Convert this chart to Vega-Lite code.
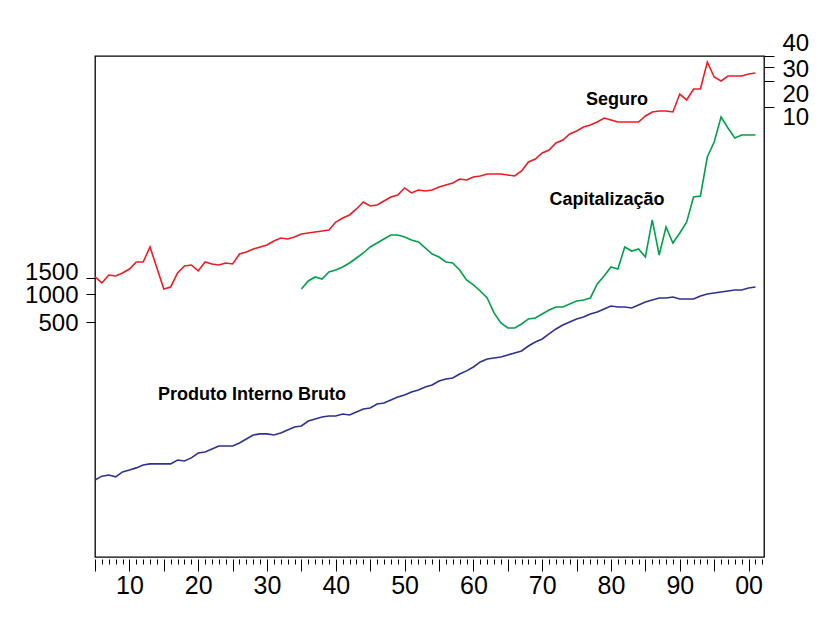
{
  "$schema": "https://vega.github.io/schema/vega-lite/v6.json",
  "width": 669,
  "height": 501,
  "autosize": {"type": "none"},
  "padding": {"left": 95, "top": 56, "right": 59, "bottom": 71},
  "background": "white",
  "config": {
    "font": "Liberation Sans",
    "view": {"stroke": "black", "strokeWidth": 1.3},
    "axis": {"labelFont": "Liberation Sans", "labelFontSize": 25, "labelColor": "black", "tickColor": "black", "tickWidth": 1, "domain": false, "grid": false, "title": null, "labelOverlap": false, "labelFlush": false, "labelBound": false}
  },
  "datasets": {
    "pib": [
      {"ano":1905,"valor":10.0},{"ano":1906,"valor":11.0},{"ano":1907,"valor":11.3},{"ano":1908,"valor":10.8},{"ano":1909,"valor":12.2},
      {"ano":1910,"valor":12.8},{"ano":1911,"valor":13.5},{"ano":1912,"valor":14.5},{"ano":1913,"valor":14.9},{"ano":1914,"valor":14.9},
      {"ano":1915,"valor":14.9},{"ano":1916,"valor":14.9},{"ano":1917,"valor":16.4},{"ano":1918,"valor":16.0},{"ano":1919,"valor":17.3},
      {"ano":1920,"valor":19.5},{"ano":1921,"valor":20.0},{"ano":1922,"valor":21.5},{"ano":1923,"valor":23.2},{"ano":1924,"valor":23.2},
      {"ano":1925,"valor":23.2},{"ano":1926,"valor":25.0},{"ano":1927,"valor":27.6},{"ano":1928,"valor":30.5},{"ano":1929,"valor":31.3},
      {"ano":1930,"valor":31.3},{"ano":1931,"valor":30.5},{"ano":1932,"valor":32.0},{"ano":1933,"valor":34.5},{"ano":1934,"valor":37.2},
      {"ano":1935,"valor":38.1},{"ano":1936,"valor":43.1},{"ano":1937,"valor":45.3},{"ano":1938,"valor":47.5},{"ano":1939,"valor":48.8},
      {"ano":1940,"valor":48.8},{"ano":1941,"valor":51.3},{"ano":1942,"valor":50.0},{"ano":1943,"valor":53.8},{"ano":1944,"valor":58.0},
      {"ano":1945,"valor":59.4},{"ano":1946,"valor":65.6},{"ano":1947,"valor":67.2},{"ano":1948,"valor":72.4},{"ano":1949,"valor":78.0},
      {"ano":1950,"valor":82.0},{"ano":1951,"valor":88.3},{"ano":1952,"valor":92.9},{"ano":1953,"valor":100},{"ano":1954,"valor":105},
      {"ano":1955,"valor":116},{"ano":1956,"valor":122},{"ano":1957,"valor":125},{"ano":1958,"valor":138},{"ano":1959,"valor":149},
      {"ano":1960,"valor":164},{"ano":1961,"valor":186},{"ano":1962,"valor":200},{"ano":1963,"valor":205},{"ano":1964,"valor":210},
      {"ano":1965,"valor":221},{"ano":1966,"valor":232},{"ano":1967,"valor":244},{"ano":1968,"valor":276},{"ano":1969,"valor":305},
      {"ano":1970,"valor":328},{"ano":1971,"valor":372},{"ano":1972,"valor":421},{"ano":1973,"valor":464},{"ano":1974,"valor":500},
      {"ano":1975,"valor":539},{"ano":1976,"valor":566},{"ano":1977,"valor":610},{"ano":1978,"valor":640},{"ano":1979,"valor":690},
      {"ano":1980,"valor":743},{"ano":1981,"valor":725},{"ano":1982,"valor":725},{"ano":1983,"valor":707},{"ano":1984,"valor":762},
      {"ano":1985,"valor":820},{"ano":1986,"valor":862},{"ano":1987,"valor":906},{"ano":1988,"valor":906},{"ano":1989,"valor":929},
      {"ano":1990,"valor":884},{"ano":1991,"valor":884},{"ano":1992,"valor":884},{"ano":1993,"valor":952},{"ano":1994,"valor":1000},
      {"ano":1995,"valor":1025},{"ano":1996,"valor":1051},{"ano":1997,"valor":1077},{"ano":1998,"valor":1104},{"ano":1999,"valor":1104},
      {"ano":2000,"valor":1160},{"ano":2001,"valor":1190}
    ],
    "capitalizacao": [
      {"ano":1935,"valor":1132},{"ano":1936,"valor":1380},{"ano":1937,"valor":1524},{"ano":1938,"valor":1449},{"ano":1939,"valor":1725},
      {"ano":1940,"valor":1812},{"ano":1941,"valor":1951},{"ano":1942,"valor":2153},{"ano":1943,"valor":2438},{"ano":1944,"valor":2760},
      {"ano":1945,"valor":3200},{"ano":1946,"valor":3533},{"ano":1947,"valor":3900},{"ano":1948,"valor":4306},{"ano":1949,"valor":4306},
      {"ano":1950,"valor":4100},{"ano":1951,"valor":3808},{"ano":1952,"valor":3626},{"ano":1953,"valor":3126},{"ano":1954,"valor":2692},
      {"ano":1955,"valor":2500},{"ano":1956,"valor":2209},{"ano":1957,"valor":2153},{"ano":1958,"valor":1812},{"ano":1959,"valor":1416},
      {"ano":1960,"valor":1250},{"ano":1961,"valor":1077},{"ano":1962,"valor":906},{"ano":1963,"valor":626},{"ano":1964,"valor":488},
      {"ano":1965,"valor":431},{"ano":1966,"valor":431},{"ano":1967,"valor":476},{"ano":1968,"valor":539},{"ano":1969,"valor":552},
      {"ano":1970,"valor":610},{"ano":1971,"valor":673},{"ano":1972,"valor":725},{"ano":1973,"valor":725},{"ano":1974,"valor":780},
      {"ano":1975,"valor":841},{"ano":1976,"valor":862},{"ano":1977,"valor":906},{"ano":1978,"valor":1281},{"ano":1979,"valor":1563},
      {"ano":1980,"valor":1951},{"ano":1981,"valor":1857},{"ano":1982,"valor":3200},{"ano":1983,"valor":2898},{"ano":1984,"valor":3046},
      {"ano":1985,"valor":2500},{"ano":1986,"valor":6250},{"ano":1987,"valor":2625},{"ano":1988,"valor":5250},{"ano":1989,"valor":3533},
      {"ano":1990,"valor":4529},{"ano":1991,"valor":5943},{"ano":1992,"valor":11040},{"ano":1993,"valor":11320},{"ano":1994,"valor":29700},
      {"ano":1995,"valor":43000},{"ano":1996,"valor":80000},{"ano":1997,"valor":61000},{"ano":1998,"valor":47600},{"ano":1999,"valor":51300},
      {"ano":2000,"valor":51300},{"ano":2001,"valor":51300}
    ],
    "seguro": [
      {"ano":1905,"valor":0.0984},{"ano":1906,"valor":0.0836},{"ano":1907,"valor":0.1038},{"ano":1908,"valor":0.1012},{"ano":1909,"valor":0.1096},
      {"ano":1910,"valor":0.1222},{"ano":1911,"valor":0.1479},{"ano":1912,"valor":0.1479},{"ano":1913,"valor":0.2223},{"ano":1914,"valor":0.1256},
      {"ano":1915,"valor":0.0710},{"ano":1916,"valor":0.0750},{"ano":1917,"valor":0.1096},{"ano":1918,"valor":0.1327},{"ano":1919,"valor":0.1362},
      {"ano":1920,"valor":0.1159},{"ano":1921,"valor":0.1479},{"ano":1922,"valor":0.1400},{"ano":1923,"valor":0.1362},{"ano":1924,"valor":0.1439},
      {"ano":1925,"valor":0.1400},{"ano":1926,"valor":0.1837},{"ano":1927,"valor":0.1941},{"ano":1928,"valor":0.2104},{"ano":1929,"valor":0.2223},
      {"ano":1930,"valor":0.2350},{"ano":1931,"valor":0.2618},{"ano":1932,"valor":0.2838},{"ano":1933,"valor":0.2761},{"ano":1934,"valor":0.2917},
      {"ano":1935,"valor":0.3162},{"ano":1936,"valor":0.3251},{"ano":1937,"valor":0.3342},{"ano":1938,"valor":0.3436},{"ano":1939,"valor":0.3532},
      {"ano":1940,"valor":0.4385},{"ano":1941,"valor":0.4887},{"ano":1942,"valor":0.5310},{"ano":1943,"valor":0.6252},{"ano":1944,"valor":0.7551},
      {"ano":1945,"valor":0.6776},{"ano":1946,"valor":0.6966},{"ano":1947,"valor":0.7762},{"ano":1948,"valor":0.8650},{"ano":1949,"valor":0.9142},
      {"ano":1950,"valor":1.107},{"ano":1951,"valor":0.9661},{"ano":1952,"valor":1.047},{"ano":1953,"valor":1.019},{"ano":1954,"valor":1.047},
      {"ano":1955,"valor":1.135},{"ano":1956,"valor":1.199},{"ano":1957,"valor":1.267},{"ano":1958,"valor":1.413},{"ano":1959,"valor":1.374},
      {"ano":1960,"valor":1.489},{"ano":1961,"valor":1.531},{"ano":1962,"valor":1.618},{"ano":1963,"valor":1.618},{"ano":1964,"valor":1.618},
      {"ano":1965,"valor":1.574},{"ano":1966,"valor":1.531},{"ano":1967,"valor":1.754},{"ano":1968,"valor":2.244},{"ano":1969,"valor":2.432},
      {"ano":1970,"valor":2.864},{"ano":1971,"valor":3.105},{"ano":1972,"valor":3.758},{"ano":1973,"valor":4.074},{"ano":1974,"valor":4.797},
      {"ano":1975,"valor":5.212},{"ano":1976,"valor":5.808},{"ano":1977,"valor":6.124},{"ano":1978,"valor":6.653},{"ano":1979,"valor":7.413},
      {"ano":1980,"valor":7.015},{"ano":1981,"valor":6.653},{"ano":1982,"valor":6.653},{"ano":1983,"valor":6.653},{"ano":1984,"valor":6.653},
      {"ano":1985,"valor":7.834},{"ano":1986,"valor":8.730},{"ano":1987,"valor":8.974},{"ano":1988,"valor":8.974},{"ano":1989,"valor":8.730},
      {"ano":1990,"valor":14.22},{"ano":1991,"valor":12.10},{"ano":1992,"valor":16.29},{"ano":1993,"valor":16.29},{"ano":1994,"valor":33.96},
      {"ano":1995,"valor":22.59},{"ano":1996,"valor":20.28},{"ano":1997,"valor":23.23},{"ano":1998,"valor":23.23},{"ano":1999,"valor":23.23},
      {"ano":2000,"valor":24.49},{"ano":2001,"valor":25.18}
    ],
    "rotulos": [
      {"ano":1980.87,"valor":121900,"rotulo":"Seguro"},
      {"ano":1979.42,"valor":10250,"rotulo":"Capitalização"},
      {"ano":1927.82,"valor":82,"rotulo":"Produto Interno Bruto"}
    ]
  },
  "layer": [
    {
      "encoding": {
        "x": {"field": "ano", "type": "quantitative",
              "scale": {"domain": [1905, 2002.24], "nice": false, "zero": false},
              "axis": {"values": [1905,1906,1907,1908,1909,1910,1911,1912,1913,1914,1915,1916,1917,1918,1919,1920,1921,1922,1923,1924,1925,1926,1927,1928,1929,1930,1931,1932,1933,1934,1935,1936,1937,1938,1939,1940,1941,1942,1943,1944,1945,1946,1947,1948,1949,1950,1951,1952,1953,1954,1955,1956,1957,1958,1959,1960,1961,1962,1963,1964,1965,1966,1967,1968,1969,1970,1971,1972,1973,1974,1975,1976,1977,1978,1979,1980,1981,1982,1983,1984,1985,1986,1987,1988,1989,1990,1991,1992,1993,1994,1995,1996,1997,1998,1999,2000,2001,2002],
                       "tickSize": {"condition": {"test": "datum.value % 5 === 0", "value": 12}, "value": 5},
                       "labelExpr": "datum.value % 10 === 0 ? substring(toString(datum.value), 2) : ''",
                       "labelBaseline": "top", "labelPadding": 2, "offset": 2}},
        "y": {"field": "valor", "type": "quantitative",
              "scale": {"type": "log", "domain": [1.486, 362200], "nice": false},
              "axis": {"orient": "left", "values": [500, 1000, 1500], "format": "d", "tickSize": 9, "labelPadding": 8, "labelFontSize": 24,
                       "labelOffset": {"condition": {"test": "datum.value === 1500", "value": -5}, "value": 2}}}
      },
      "layer": [
        {
          "data": {"name": "pib"},
          "mark": {"type": "line", "color": "#2E3192", "strokeWidth": 1.6}
        },
        {
          "data": {"name": "capitalizacao"},
          "mark": {"type": "line", "color": "#00A04B", "strokeWidth": 1.6}
        },
        {
          "data": {"name": "rotulos"},
          "mark": {"type": "text", "font": "Liberation Sans", "fontWeight": "bold", "fontSize": 18, "align": "center", "baseline": "middle", "color": "black"},
          "encoding": {
            "text": {"field": "rotulo", "type": "nominal"}
          }
        }
      ]
    },
    {
      "data": {"name": "seguro"},
      "mark": {"type": "line", "color": "#ED1C24", "strokeWidth": 1.6},
      "encoding": {
        "x": {"field": "ano", "type": "quantitative", "scale": {"domain": [1905, 2002.24], "nice": false, "zero": false},
              "axis": {"values": [1905,1906,1907,1908,1909,1910,1911,1912,1913,1914,1915,1916,1917,1918,1919,1920,1921,1922,1923,1924,1925,1926,1927,1928,1929,1930,1931,1932,1933,1934,1935,1936,1937,1938,1939,1940,1941,1942,1943,1944,1945,1946,1947,1948,1949,1950,1951,1952,1953,1954,1955,1956,1957,1958,1959,1960,1961,1962,1963,1964,1965,1966,1967,1968,1969,1970,1971,1972,1973,1974,1975,1976,1977,1978,1979,1980,1981,1982,1983,1984,1985,1986,1987,1988,1989,1990,1991,1992,1993,1994,1995,1996,1997,1998,1999,2000,2001,2002],
                       "tickSize": {"condition": {"test": "datum.value % 5 === 0", "value": 12}, "value": 5},
                       "labelExpr": "datum.value % 10 === 0 ? substring(toString(datum.value), 2) : ''",
                       "labelBaseline": "top", "labelPadding": 2, "offset": 2}},
        "y": {"field": "valor", "type": "quantitative",
              "scale": {"type": "log", "domain": [0.0000486, 40], "nice": false},
              "axis": {"orient": "right", "values": [10, 20, 30, 40], "format": "d", "tickSize": 10, "labelPadding": 8, "labelFontSize": 24,
                       "labelOffset": {"condition": [{"test": "datum.value === 40", "value": -13}, {"test": "datum.value === 30", "value": 3}, {"test": "datum.value === 20", "value": 13}], "value": 11}}}
      }
    }
  ],
  "resolve": {"scale": {"y": "independent"}}
}
